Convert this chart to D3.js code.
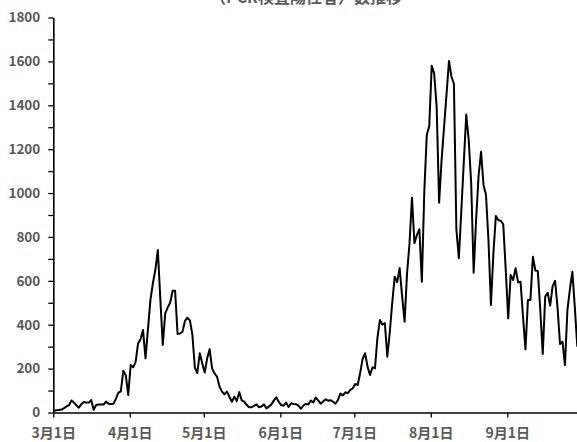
<!DOCTYPE html>
<html>
<head>
<meta charset="utf-8">
<script src="https://cdn.jsdelivr.net/npm/d3@7"></script>
<style>
  html, body { margin: 0; padding: 0; background: #fff; }
  svg { display: block; }
  text { font-family: "Noto Sans CJK JP", "Noto Sans", sans-serif; }
</style>
</head>
<body>
<svg id="chart" width="577" height="442"></svg>
<script>
// ---- data (daily PCR positives, 2020-03-01 onward) ----
const title = "（PCR検査陽性者）数推移";
const startDate = Date.UTC(2020, 2, 1);
const marValues = [8, 10, 12, 13, 20, 28, 33, 55, 45, 33, 22, 38, 48, 46, 45, 57, 12, 34, 36, 37, 36, 50, 40, 39, 40, 62, 90, 96, 190, 170, 80];
const aprValues = [216, 206, 231, 315, 334, 376, 247, 380, 513, 589, 650, 740, 520, 308, 452, 479, 500, 555, 555, 358, 360, 368, 418, 432, 420, 355, 205, 180, 270, 224];
const mayValues = [182, 247, 288, 200, 178, 163, 118, 95, 83, 95, 72, 49, 72, 52, 93, 55, 49, 35, 24, 24, 30, 37, 24, 27, 37, 19, 27, 37, 54, 69, 49];
const junValues = [34, 31, 45, 25, 42, 39, 38, 31, 17, 32, 39, 37, 54, 46, 68, 55, 40, 50, 60, 54, 56, 49, 40, 57, 87, 78, 92, 88, 103, 110];
const julValues = [130, 125, 180, 245, 270, 209, 171, 206, 201, 340, 422, 400, 408, 254, 365, 500, 619, 594, 658, 530, 414, 634, 770, 979, 771, 809, 835, 596, 1006, 1265, 1305];
const augValues = [1580, 1545, 1394, 956, 1150, 1300, 1450, 1602, 1530, 1498, 835, 703, 920, 1140, 1358, 1240, 1044, 637, 880, 1080, 1188, 1037, 991, 786, 490, 725, 896, 876, 874, 858, 650];
const sepValues = [429, 627, 604, 657, 594, 596, 437, 288, 513, 513, 710, 647, 645, 467, 267, 528, 546, 487, 576, 600, 478, 312, 323, 216, 467, 561, 642, 480, 300];
const xTickMonths = [2, 3, 4, 5, 6, 7, 8];          // month indexes for tick labels (3月..9月)
const yMajorTicks = [0, 200, 400, 600, 800, 1000, 1200, 1400, 1600, 1800];
const yMinorTicks = [100, 300, 500, 700, 900, 1100, 1300, 1500, 1700];

const values = [].concat(marValues, aprValues, mayValues, junValues, julValues, augValues, sepValues);
const series = values.map((v, i) => ({ date: d3.utcDay.offset(new Date(startDate), i), value: v }));

// ---- layout ----
const svg = d3.select("#chart");
const x0 = 53.3, pxPerDay = 2.4674;
const x = d3.scaleUtc()
  .domain([new Date(startDate), new Date(Date.UTC(2020, 9, 1))])
  .range([x0, x0 + 214 * pxPerDay]);
const y = d3.scaleLinear().domain([0, 1800]).range([412.5, 17.5]);

const labelColor = "#595959";

// title (partly cut off at top, as in the reference)
svg.append("text")
  .attr("x", 306).attr("y", 3)
  .attr("text-anchor", "middle")
  .attr("font-size", 16).attr("font-weight", "bold")
  .attr("fill", labelColor)
  .text(title);

// y axis: minor ticks
svg.append("g")
  .attr("transform", `translate(${x0},0)`)
  .call(d3.axisLeft(y).tickValues(yMinorTicks).tickSize(5).tickSizeOuter(0).tickFormat(""))
  .call(g => g.select(".domain").remove())
  .call(g => g.selectAll("line").attr("stroke", "#000").attr("stroke-width", 1.3));

// y axis: major ticks + labels
svg.append("g")
  .attr("transform", `translate(${x0},0)`)
  .call(d3.axisLeft(y).tickValues(yMajorTicks).tickSize(5).tickSizeOuter(0).tickPadding(8)
    .tickFormat(d3.format("d")))
  .call(g => g.select(".domain").attr("stroke", "#000").attr("stroke-width", 1.6))
  .call(g => g.selectAll("line").attr("stroke", "#000").attr("stroke-width", 1.3))
  .call(g => g.selectAll("text")
    .attr("font-family", '"Noto Sans CJK JP", "Noto Sans", sans-serif')
    .attr("font-size", 13.5).attr("font-weight", "bold").attr("fill", labelColor));

// x axis
svg.append("g")
  .attr("transform", `translate(0,${y(0)})`)
  .call(d3.axisBottom(x)
    .tickValues(xTickMonths.map(m => new Date(Date.UTC(2020, m, 1))))
    .tickSize(5).tickSizeOuter(0).tickPadding(11)
    .tickFormat(d => `${d.getUTCMonth() + 1}月1日`))
  .call(g => g.select(".domain").attr("stroke", "#000").attr("stroke-width", 1.6))
  .call(g => g.selectAll("line").attr("stroke", "#000").attr("stroke-width", 1.3))
  .call(g => g.selectAll("text")
    .attr("font-family", '"Noto Sans CJK JP", "Noto Sans", sans-serif')
    .attr("font-size", 14).attr("font-weight", "bold").attr("fill", labelColor));

// line
const line = d3.line()
  .x(d => x(d.date) + 0.9)
  .y(d => y(d.value));

svg.append("path")
  .datum(series)
  .attr("fill", "none")
  .attr("stroke", "#000")
  .attr("stroke-width", 2)
  .attr("stroke-linejoin", "round")
  .attr("d", line);
</script>
</body>
</html>
